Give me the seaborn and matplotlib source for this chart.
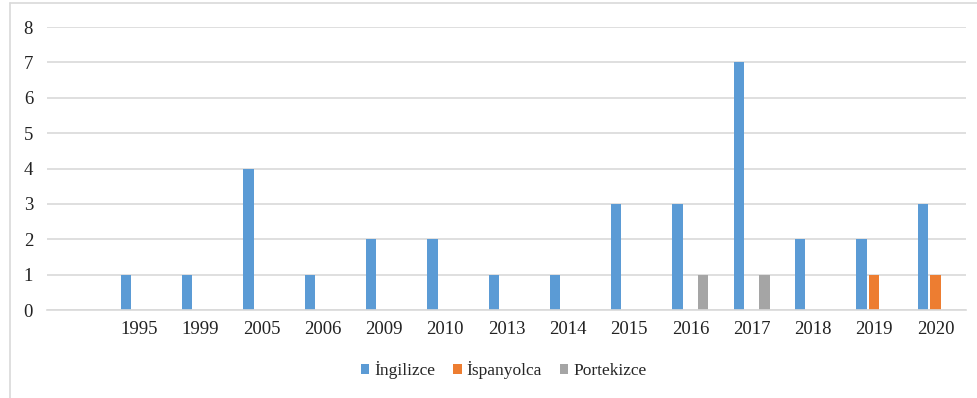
import pandas as pd
import matplotlib.pyplot as plt
import seaborn as sns
from matplotlib.lines import Line2D
from matplotlib.patches import Patch


# Data

years = ["", "1995", "1999", "2005", "2006", "2009", "2010", "2013",
         "2014", "2015", "2016", "2017", "2018", "2019", "2020"]
ingilizce = [0, 1, 1, 4, 1, 2, 2, 1, 1, 3, 3, 7, 2, 2, 3]
ispanyolca = [0, 0, 0, 0, 0, 0, 0, 0, 0, 0, 0, 0, 0, 1, 1]
portekizce = [0, 0, 0, 0, 0, 0, 0, 0, 0, 0, 1, 1, 0, 0, 0]

languages = ["İngilizce", "İspanyolca", "Portekizce"]
colors = ["#5B9BD5", "#ED7D31", "#A5A5A5"]

df = pd.DataFrame({
    "Year": years * 3,
    "Language": [languages[0]] * len(years) + [languages[1]] * len(years) + [languages[2]] * len(years),
    "Count": ingilizce + ispanyolca + portekizce,
})


# Plot

sns.set_style("white")
plt.rcParams["font.family"] = ["Liberation Serif", "DejaVu Serif"]

fig = plt.figure(figsize=(9.78, 3.98), dpi=100)
ax = fig.add_axes([0.048, 0.221, 0.940, 0.711])

sns.barplot(
    data=df, x="Year", y="Count", hue="Language", order=years,
    hue_order=languages, palette=colors, width=0.63, gap=0.2,
    saturation=1, legend=False, linewidth=0, ax=ax,
)

ax.set_ylim(0, 8)
ax.set_yticks(range(0, 9))
ax.set_xlim(-0.5, len(years) - 0.5)
ax.yaxis.grid(True, color="#D9D9D9", linewidth=1.2)
ax.set_axisbelow(True)
for side in ["top", "right", "left"]:
    ax.spines[side].set_visible(False)
ax.spines["bottom"].set_color("#D9D9D9")
ax.spines["bottom"].set_linewidth(1.2)
ax.tick_params(axis="both", length=0, labelsize=13.5, colors="#222222")
ax.tick_params(axis="x", pad=8)
ax.tick_params(axis="y", pad=10)
ax.set_xlabel("")
ax.set_ylabel("")

handles = [Patch(facecolor=c, edgecolor="none") for c in colors]
fig.legend(
    handles, languages, loc="center", bbox_to_anchor=(0.515, 0.07),
    ncol=3, frameon=False, fontsize=12.5, handlelength=0.5, handleheight=0.5,
    handletextpad=0.3, columnspacing=1.0,
)

# outer chart frame
fig.add_artist(Line2D([0.0105, 0.0105], [0.0, 0.992], color="#D9D9D9", linewidth=1.2))
fig.add_artist(Line2D([0.0105, 1.0], [0.992, 0.992], color="#D9D9D9", linewidth=1.2))

fig.savefig("out.png", dpi=100)
